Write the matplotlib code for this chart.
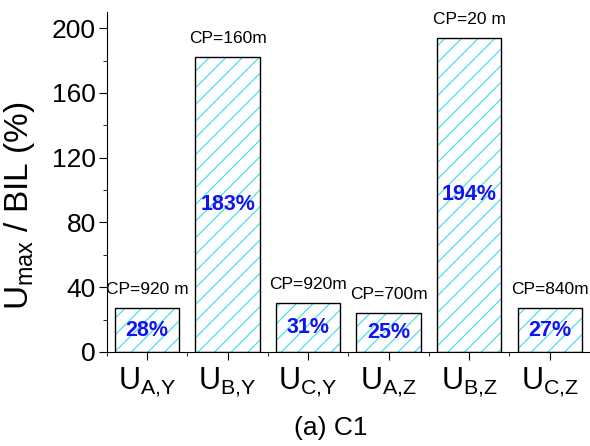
import matplotlib
matplotlib.use("Agg")
import matplotlib.pyplot as plt
from matplotlib.ticker import MultipleLocator
import numpy as np

# data
cats = ["A{,}Y", "B{,}Y", "C{,}Y", "A{,}Z", "B{,}Z", "C{,}Z"]
heights = [27, 182, 30, 24, 194, 27]
pct_labels = ["28%", "183%", "31%", "25%", "194%", "27%"]
cp_labels = ["CP=920 m", "CP=160m", "CP=920m", "CP=700m", "CP=20 m", "CP=840m"]

plt.rcParams["font.family"] = ["Liberation Sans", "DejaVu Sans"]
plt.rcParams["mathtext.fontset"] = "custom"
plt.rcParams["mathtext.rm"] = "Liberation Sans"
plt.rcParams["mathtext.it"] = "Liberation Sans"
plt.rcParams["hatch.linewidth"] = 0.8

fig = plt.figure(figsize=(5.9, 4.46), dpi=100)
ax = fig.add_axes([0.181, 0.211, 0.819, 0.762])

x = np.arange(1, len(cats) + 1)
ax.bar(x, heights, width=0.8, color="white", edgecolor="#33e0ee", hatch="//", linewidth=0)
ax.bar(x, heights, width=0.8, color="none", edgecolor="black", linewidth=1.0)

for xi, h, p, c in zip(x, heights, pct_labels, cp_labels):
    ax.text(xi, h / 2, p, ha="center", va="center", color="#1414f0",
            fontsize=15.5, fontweight="bold")
    ax.annotate(c, (xi, h), xytext=(0, 8), textcoords="offset points",
                ha="center", va="bottom", fontsize=12.5)

ax.set_xlim(0.5, 6.5)
ax.set_ylim(0, 210)
ax.yaxis.set_major_locator(MultipleLocator(40))
ax.yaxis.set_minor_locator(MultipleLocator(20))
ax.set_xticks(x)
ax.set_xticks(np.arange(0.5, 7, 1), minor=True)
ax.set_xticklabels([r"U$_{\mathrm{" + c + "}}$" for c in cats], fontsize=22)
ax.tick_params(axis="y", labelsize=19, length=6, width=0.8, pad=2)
ax.tick_params(axis="y", which="minor", length=3)
ax.tick_params(axis="x", length=6, width=0.8, pad=4)
ax.tick_params(axis="x", which="minor", length=3)
for s in ["top", "right"]:
    ax.spines[s].set_visible(False)

ax.set_ylabel(r"U$_{\mathrm{max}}$ / BIL (%)", fontsize=24)
ax.yaxis.set_label_coords(-0.145, 0.43)
fig.text(0.56, 0.04, "(a) C1", ha="center", va="center", fontsize=19)

fig.savefig("out.png", dpi=100)
